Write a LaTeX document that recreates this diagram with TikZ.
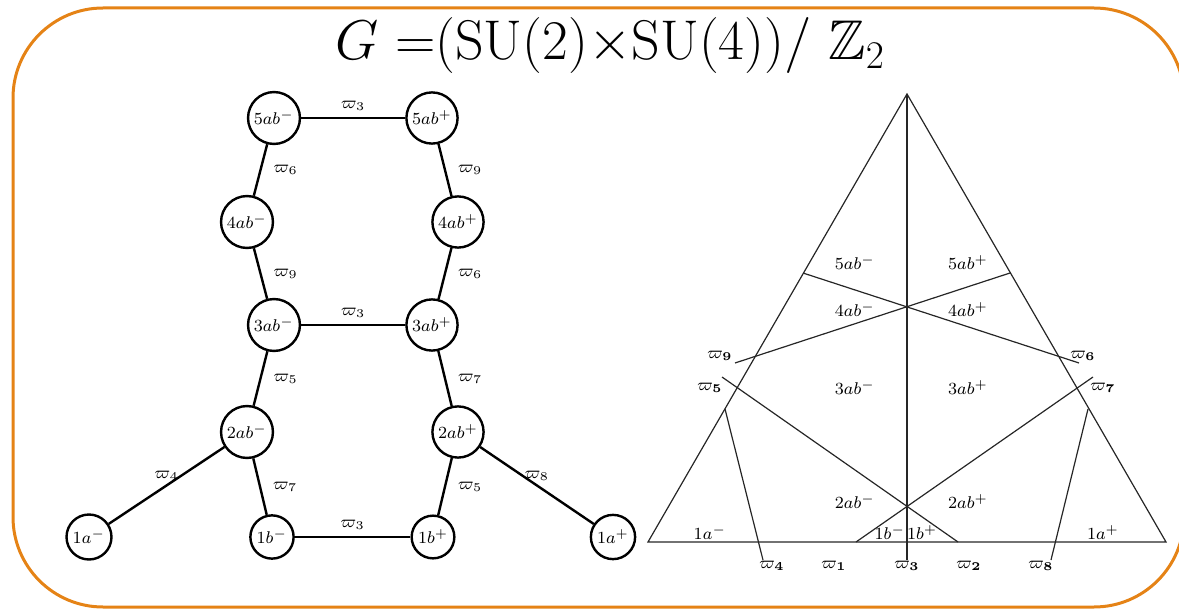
\documentclass[tikz,border=0pt]{standalone}
\usepackage{fix-cm}
\usepackage{amssymb}
\definecolor{frameorange}{RGB}{229,131,22}

\begin{document}
\begin{tikzpicture}[x=0.5pt,y=-0.5pt,
    vert/.style={circle,draw,line width=1.2pt,inner sep=1.8pt,font=\fontsize{8.5}{10}\selectfont},
    lbl/.style={font=\fontsize{8.5}{10}\selectfont,inner sep=1pt},
    link/.style={line width=1.2pt},
    wall/.style={line width=0.6pt,draw=black!85}]

    \useasboundingbox (0,0) rectangle (1179,610);

    % Frame
    \begin{scope}
    \clip (0,0) rectangle (1179,610);
    \draw[frameorange,line width=1.5pt,rounded corners=45pt] (13,8) rectangle (1184,607);
    \end{scope}

    % Title
    \node[font=\fontsize{28}{34}\selectfont] (title) at (610,46)
        {$G\ {=}(\mathrm{SU}(2){\times}\mathrm{SU}(4))/\ \mathbb{Z}_2$};

    % Graph vertices
    \node[vert] (n5m) at (274,118) {$5ab^{-}$};
    \node[vert] (n5p) at (432,118) {$5ab^{+}$};
    \node[vert] (n4m) at (247,222) {$4ab^{-}$};
    \node[vert] (n4p) at (458,222) {$4ab^{+}$};
    \node[vert] (n3m) at (274,325) {$3ab^{-}$};
    \node[vert] (n3p) at (432,325) {$3ab^{+}$};
    \node[vert] (n2m) at (247,432) {$2ab^{-}$};
    \node[vert] (n2p) at (458,432) {$2ab^{+}$};
    \node[vert] (n1bm) at (272,537) {$1b^{-}$};
    \node[vert] (n1bp) at (433,537) {$1b^{+}$};
    \node[vert] (n1am) at (89,537) {$1a^{-}$};
    \node[vert] (n1ap) at (613,537) {$1a^{+}$};

    % Graph edges
    \draw[link] (n5m) -- node[lbl,above=2pt] {$\varpi_3$} (n5p);
    \draw[link] (n5m) -- node[lbl,right=5pt] {$\varpi_6$} (n4m);
    \draw[link] (n5p) -- node[lbl,right=5pt] {$\varpi_9$} (n4p);
    \draw[link] (n4m) -- node[lbl,right=5pt] {$\varpi_9$} (n3m);
    \draw[link] (n4p) -- node[lbl,right=5pt] {$\varpi_6$} (n3p);
    \draw[link] (n3m) -- node[lbl,above=2pt] {$\varpi_3$} (n3p);
    \draw[link] (n3m) -- node[lbl,right=5pt] {$\varpi_5$} (n2m);
    \draw[link] (n3p) -- node[lbl,right=5pt] {$\varpi_7$} (n2p);
    \draw[link] (n2m) -- node[lbl,above=1pt] {$\varpi_4$} (n1am);
    \draw[link] (n2m) -- node[lbl,right=5pt] {$\varpi_7$} (n1bm);
    \draw[link] (n2p) -- node[lbl,right=5pt] {$\varpi_5$} (n1bp);
    \draw[link] (n2p) -- node[lbl,above=1pt] {$\varpi_8$} (n1ap);
    \draw[link] (n1bm) -- node[lbl,above=2pt] {$\varpi_3$} (n1bp);

    % Triangle
    \draw[wall] (648,542) -- (907,94) -- (1166,542) -- cycle;
    \draw[wall] (907,94) -- (907,560);

    % Upper walls
    \draw[wall] (803,273) -- (1079,363);
    \draw[wall] (1010,273) -- (735,363);

    % Lower walls
    \draw[wall] (722,377) -- (958,542);
    \draw[wall] (1093,377) -- (856,542);
    \draw[wall] (725,409) -- (763,560);
    \draw[wall] (1088,409) -- (1051,560);

    % Chamber labels
    \node[lbl] (c5m) at (855,263) {$5ab^{-}$};
    \node[lbl] (c5p) at (968,263) {$5ab^{+}$};
    \node[lbl] (c4m) at (855,310) {$4ab^{-}$};
    \node[lbl] (c4p) at (968,310) {$4ab^{+}$};
    \node[lbl] (c3m) at (855,388) {$3ab^{-}$};
    \node[lbl] (c3p) at (968,388) {$3ab^{+}$};
    \node[lbl] (c2m) at (855,502) {$2ab^{-}$};
    \node[lbl] (c2p) at (968,502) {$2ab^{+}$};
    \node[lbl] (c1bm) at (890,533) {$1b^{-}$};
    \node[lbl] (c1bp) at (922,533) {$1b^{+}$};
    \node[lbl] (c1am) at (710,533) {$1a^{-}$};
    \node[lbl] (c1ap) at (1103,533) {$1a^{+}$};

    % Wall labels
    \node[lbl] (w9) at (720,356) {$\varpi_{\mathbf{9}}$};
    \node[lbl] (w6) at (1083,356) {$\varpi_{\mathbf{6}}$};
    \node[lbl] (w5) at (710,388) {$\varpi_{\mathbf{5}}$};
    \node[lbl] (w7) at (1103,388) {$\varpi_{\mathbf{7}}$};
    \node[lbl] (w4) at (772,566) {$\varpi_{\mathbf{4}}$};
    \node[lbl] (w1) at (834,566) {$\varpi_{\mathbf{1}}$};
    \node[lbl] (w3) at (907,566) {$\varpi_{\mathbf{3}}$};
    \node[lbl] (w2) at (969,566) {$\varpi_{\mathbf{2}}$};
    \node[lbl] (w8) at (1041,566) {$\varpi_{\mathbf{8}}$};

\end{tikzpicture}
\end{document}
